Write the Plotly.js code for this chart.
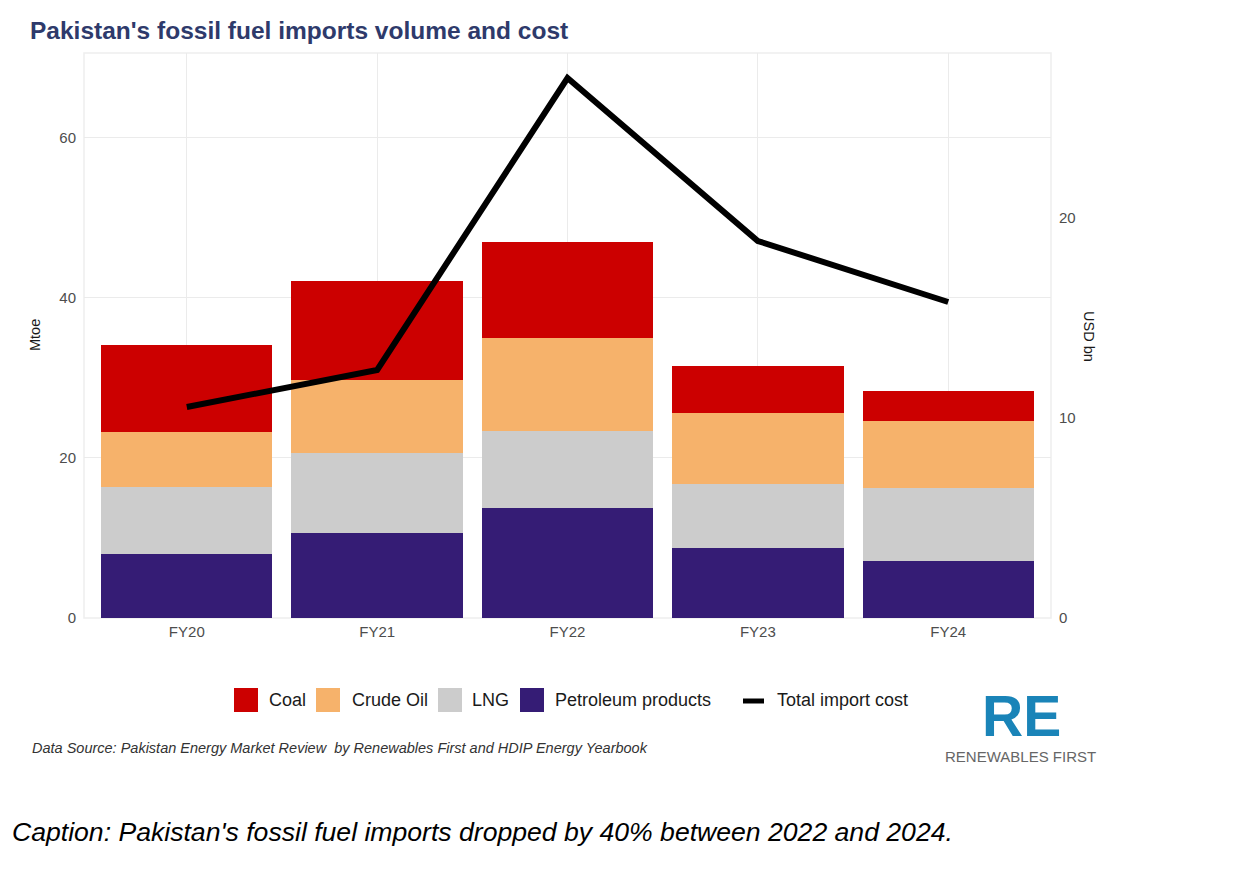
<!DOCTYPE html>
<html>
<head>
<meta charset="utf-8">
<script src="https://cdn.plot.ly/plotly-3.0.1.min.js"></script>
<style>
  html, body { margin: 0; padding: 0; background: #fff; }
  #chart { width: 1260px; height: 870px; }
</style>
</head>
<body>
<div id="chart"></div>
<script>
// data
const years = ["FY20", "FY21", "FY22", "FY23", "FY24"];
const petroleum = [8.0, 10.6, 13.75, 8.75, 7.1];   // Mtoe
const lng = [8.4, 10.0, 9.65, 8.0, 9.15];          // Mtoe
const crudeOil = [6.85, 9.15, 11.6, 8.85, 8.35];   // Mtoe
const coal = [10.85, 12.35, 12.0, 5.9, 3.8];       // Mtoe
const importCost = [10.55, 12.4, 27.0, 18.85, 15.8]; // USD bn

const seriesNames = ["Coal", "Crude Oil", "LNG", "Petroleum products"];
const seriesColors = ["#CC0000", "#F6B26B", "#CCCCCC", "#351C75"];
const lineName = "Total import cost";

const FONT = "Liberation Sans, Arial, sans-serif";

// plot area in pixels, used to place the legend and notes
const L = 84, R = 209, T = 53, B = 252, W = 1260, H = 870;
const PW = W - L - R, PH = H - T - B;
const X = px => (px - L) / PW;
const Y = py => (H - B - py) / PH;

function barTrace(name, values, color) {
  return {
    type: "bar",
    name: name,
    x: years,
    y: values,
    marker: { color: color, line: { width: 0 } },
    showlegend: false,
    hoverinfo: "skip"
  };
}

const traces = [
  barTrace(seriesNames[3], petroleum, seriesColors[3]),
  barTrace(seriesNames[2], lng, seriesColors[2]),
  barTrace(seriesNames[1], crudeOil, seriesColors[1]),
  barTrace(seriesNames[0], coal, seriesColors[0]),
  {
    type: "scatter",
    mode: "lines",
    name: lineName,
    x: years,
    y: importCost,
    yaxis: "y2",
    line: { color: "#000000", width: 6 },
    showlegend: false,
    hoverinfo: "skip"
  }
];

const shapes = [
  // panel border
  {
    type: "rect", xref: "paper", yref: "paper",
    x0: 0, x1: 1, y0: 0, y1: 1,
    line: { color: "#EEEEEE", width: 1.5 }, layer: "below"
  }
];
const annotations = [];

// custom legend: big squares like the ggplot original
const swatchLeft = [234, 316, 438, 520];
const textLeft = [267, 350, 470, 553];
seriesNames.forEach((name, i) => {
  shapes.push({
    type: "rect", xref: "paper", yref: "paper",
    x0: X(swatchLeft[i]), x1: X(swatchLeft[i] + 24),
    y0: Y(712), y1: Y(688),
    fillcolor: seriesColors[i], line: { width: 0 }
  });
  annotations.push({
    xref: "paper", yref: "paper", x: X(textLeft[i]), y: Y(700),
    xanchor: "left", yanchor: "middle", showarrow: false,
    text: name, font: { family: FONT, size: 18, color: "#1A1A1A" }
  });
});
shapes.push({
  type: "line", xref: "paper", yref: "paper",
  x0: X(743), x1: X(764), y0: Y(701), y1: Y(701),
  line: { color: "#000000", width: 5 }
});
annotations.push({
  xref: "paper", yref: "paper", x: X(775), y: Y(700),
  xanchor: "left", yanchor: "middle", showarrow: false,
  text: lineName, font: { family: FONT, size: 18, color: "#1A1A1A" }
});

// axis titles
annotations.push(
  {
    xref: "paper", yref: "paper", x: X(35), y: Y(335),
    xanchor: "center", yanchor: "middle", showarrow: false, textangle: -90,
    text: "Mtoe", font: { family: FONT, size: 14.5, color: "#1A1A1A" }
  },
  {
    xref: "paper", yref: "paper", x: X(1089), y: Y(336),
    xanchor: "center", yanchor: "middle", showarrow: false, textangle: 90,
    text: "USD bn", font: { family: FONT, size: 14.5, color: "#1A1A1A" }
  }
);

// source, caption and logo
annotations.push(
  {
    xref: "paper", yref: "paper", x: X(30), y: Y(748),
    xanchor: "left", yanchor: "middle", showarrow: false,
    text: "<i>Data Source: Pakistan Energy Market Review  by Renewables First and HDIP Energy Yearbook</i>",
    font: { family: FONT, size: 14.5, color: "#333333" }
  },
  {
    xref: "paper", yref: "paper", x: X(10), y: Y(832),
    xanchor: "left", yanchor: "middle", showarrow: false,
    text: "<i>Caption: Pakistan's fossil fuel imports dropped by 40% between 2022 and 2024.</i>",
    font: { family: FONT, size: 26.6, color: "#000000" }
  },
  {
    xref: "paper", yref: "paper", x: X(1021), y: Y(716),
    xanchor: "center", yanchor: "middle", showarrow: false, borderpad: 0,
    text: "<b>RE</b>",
    font: { family: FONT, size: 57, color: "#1A84B8" }
  },
  {
    xref: "paper", yref: "paper", x: X(1020), y: Y(756.5),
    xanchor: "center", yanchor: "middle", showarrow: false, borderpad: 0,
    text: "RENEWABLES FIRST",
    font: { family: FONT, size: 15, color: "#666666" }
  }
);

const layout = {
  width: W,
  height: H,
  margin: { l: L, r: R, t: T, b: B },
  paper_bgcolor: "#ffffff",
  plot_bgcolor: "#ffffff",
  font: { family: FONT, size: 15, color: "#4D4D4D" },
  title: {
    text: "<b>Pakistan's fossil fuel imports volume and cost</b>",
    xref: "container", yref: "container",
    x: 30 / W, xanchor: "left",
    y: 1 - 30 / H, yanchor: "middle",
    font: { family: FONT, size: 24.5, color: "#2E3A6B" }
  },
  barmode: "stack",
  bargap: 0.1,
  showlegend: false,
  xaxis: {
    type: "category",
    range: [-0.54, 4.54],
    showgrid: true,
    gridcolor: "#EBEBEB",
    gridwidth: 1,
    zeroline: false,
    showline: false,
    ticks: "",
    ticklabelstandoff: 3,
    tickfont: { family: FONT, size: 15, color: "#4D4D4D" }
  },
  yaxis: {
    range: [0, 70.6],
    tickvals: [0, 20, 40, 60],
    showgrid: true,
    gridcolor: "#EBEBEB",
    gridwidth: 1,
    zeroline: false,
    showline: false,
    ticks: "",
    ticklabelstandoff: 7,
    tickfont: { family: FONT, size: 15, color: "#4D4D4D" }
  },
  yaxis2: {
    overlaying: "y",
    side: "right",
    range: [0, 28.25],
    tickvals: [0, 10, 20],
    showgrid: false,
    zeroline: false,
    showline: false,
    ticks: "",
    ticklabelstandoff: 7,
    tickfont: { family: FONT, size: 15, color: "#4D4D4D" }
  },
  shapes: shapes,
  annotations: annotations
};

Plotly.newPlot("chart", traces, layout, {
  displayModeBar: false,
  staticPlot: true
});
</script>
</body>
</html>
